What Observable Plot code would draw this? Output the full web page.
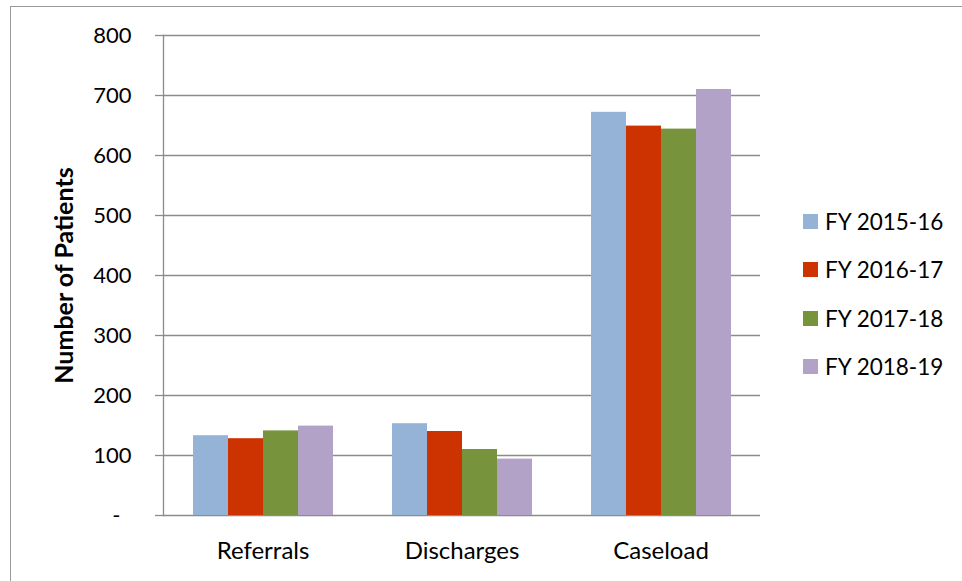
<!DOCTYPE html>
<html>
<head>
<meta charset="utf-8">
<script src="https://cdn.jsdelivr.net/npm/d3@7"></script>
<script src="https://cdn.jsdelivr.net/npm/@observablehq/plot@0.6"></script>
<style>
  html, body { margin: 0; padding: 0; background: #fff; }
  #wrap { position: relative; width: 962px; height: 581px; overflow: hidden; font-family: Lato, "Open Sans", sans-serif; }
  #border { position: absolute; left: 10px; top: 6px; width: 1000px; height: 1000px; border-left: 1px solid #9a9a9a; border-top: 1px solid #9a9a9a; }
  #chart { position: absolute; left: 0; top: 0; }
  #legend { position: absolute; left: 803px; top: 197px; font-size: 22.5px; color: #000; }
  #legend .row { display: flex; align-items: center; height: 48.5px; }
  #legend .sw { width: 15px; height: 15px; margin-right: 7px; }
  g[aria-label="y-axis label"] text { font-weight: bold; font-size: 25px; }
</style>
</head>
<body>
<div id="wrap">
  <div id="border"></div>
  <div id="chart"></div>
  <div id="legend"></div>
</div>
<script>
const categories = ["Referrals", "Discharges", "Caseload"];
const seriesNames = ["FY 2015-16", "FY 2016-17", "FY 2017-18", "FY 2018-19"];
const fy2015 = [133, 153, 672];
const fy2016 = [128, 140, 649];
const fy2017 = [141, 110, 644];
const fy2018 = [149, 94, 710];
const yTicks = [0, 100, 200, 300, 400, 500, 600, 700, 800];
const colors = ["#95b3d7", "#cd3300", "#77933c", "#b2a2c7"];

const seriesValues = [fy2015, fy2016, fy2017, fy2018];
const data = [];
categories.forEach((c, i) => {
  seriesNames.forEach((s, j) => {
    data.push({category: c, series: s, value: seriesValues[j][i]});
  });
});

const gridColor = "#8c8c8c";

const chart = Plot.plot({
  width: 962,
  height: 581,
  marginLeft: 163,
  marginRight: 202,
  marginTop: 35,
  marginBottom: 66,
  style: {fontFamily: "Lato, 'Open Sans', sans-serif", fontSize: "22px", color: "#000", background: "transparent"},
  fx: {domain: categories, padding: 0, label: null},
  x: {domain: seriesNames, paddingInner: 0, paddingOuter: 0.764, axis: null},
  y: {domain: [0, 800]},
  color: {domain: seriesNames, range: colors},
  marks: [
    Plot.gridY(yTicks, {stroke: gridColor, strokeOpacity: 1, strokeWidth: 1.3}),
    Plot.barY(data, {fx: "category", x: "series", y: "value", fill: "series"}),
    Plot.axisFx({anchor: "bottom", tickSize: 0, tickPadding: 26, fontSize: 24, label: null}),
    Plot.axisY(yTicks, {
      tickSize: 8, tickPadding: 24, stroke: gridColor, strokeWidth: 1.3, fill: "#000", fontSize: 22,
      tickFormat: d => d === 0 ? "-\u2002" : d3.format("d")(d),
      label: "Number of Patients", labelAnchor: "center", labelArrow: "none", labelOffset: 108
    }),
    Plot.frame({anchor: "left", facetAnchor: "left", stroke: gridColor, strokeWidth: 1.3})
  ]
});
document.getElementById("chart").appendChild(chart);

const legend = document.getElementById("legend");
seriesNames.forEach((s, j) => {
  const row = document.createElement("div");
  row.className = "row";
  const sw = document.createElement("div");
  sw.className = "sw";
  sw.style.background = colors[j];
  const t = document.createElement("span");
  t.textContent = s;
  row.appendChild(sw);
  row.appendChild(t);
  legend.appendChild(row);
});
</script>
</body>
</html>
